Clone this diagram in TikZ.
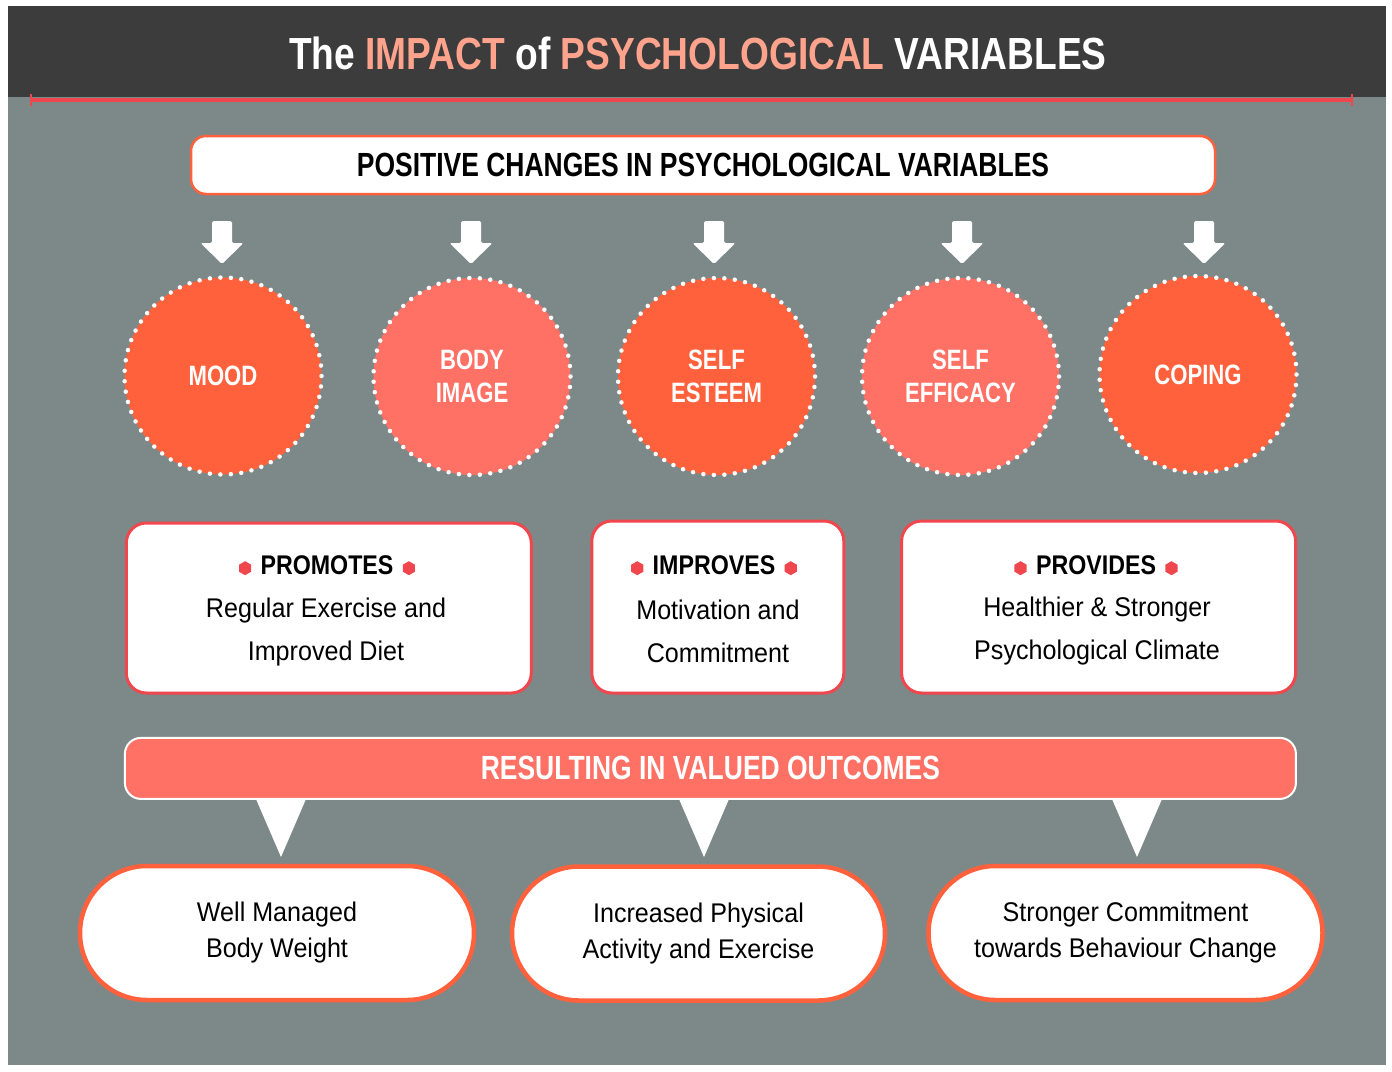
\documentclass[tikz,border=0pt]{standalone}
\usepackage{fontspec}
\setmainfont{Liberation Sans}
\newfontfamily\titlefont{Liberation Sans}[FakeStretch=0.825]
\newfontfamily\capsfont{Liberation Sans}[FakeStretch=0.79]
\newfontfamily\headfont{Liberation Sans}[FakeStretch=0.86]
\newfontfamily\bodyfont{Liberation Sans}[FakeStretch=0.93]
\usetikzlibrary{positioning,shapes.geometric}

\begin{document}
\begin{tikzpicture}[
    x=1pt, y=-1pt,
    varcircle/.style={
        circle, minimum size=197pt, inner sep=0pt, align=center,
        draw=white, line width=4.5pt, line cap=round, dash pattern=on 0pt off 10.49pt,
        text=white, font=\capsfont\bfseries\fontsize{28pt}{33pt}\selectfont
    },
    topbox/.style={
        draw=colOrange, line width=2.5pt, fill=white, rounded corners=15pt,
        minimum width=1024pt, minimum height=58pt, inner sep=0pt,
        font=\capsfont\bfseries\fontsize{33.5pt}{33.5pt}\selectfont
    },
    resultbox/.style={
        draw=colRed, line width=3pt, fill=white, rounded corners=20pt, inner sep=0pt
    },
    boxhead/.style={inner sep=0pt, font=\headfont\bfseries\fontsize{27pt}{27pt}\selectfont},
    boxbody/.style={inner sep=0pt, align=center, font=\bodyfont\fontsize{27pt}{43pt}\selectfont},
    hexdot/.style={
        regular polygon, regular polygon sides=6, regular polygon rotate=30,
        minimum size=14pt, inner sep=0pt, fill=colRed
    },
    banner/.style={
        draw=white, line width=2pt, fill=colSalmon, rounded corners=16pt,
        minimum width=1171pt, minimum height=61pt, inner sep=0pt, text=white,
        font=\capsfont\bfseries\fontsize{33.5pt}{33.5pt}\selectfont
    },
    outcome/.style={
        draw=colOrange, line width=4.5pt, fill=white, rounded corners=67pt,
        minimum width=394pt, minimum height=134pt, inner sep=0pt, align=center,
        font=\bodyfont\fontsize{27pt}{36pt}\selectfont
    }
]

% ============================
% COLOR DEFINITIONS
% ============================
\definecolor{colDark}{HTML}{3C3C3C}     % header
\definecolor{colSlate}{HTML}{7D8989}    % panel
\definecolor{colOrange}{HTML}{FF613D}   % orange red
\definecolor{colSalmon}{HTML}{FF7065}   % salmon
\definecolor{colAccent}{HTML}{FFA38D}   % title accent
\definecolor{colRed}{HTML}{F0464D}      % box borders

\useasboundingbox (0,0) rectangle (1392,1071);
\fill[white] (0,0) rectangle (1392,1071);

% ============================
% HEADER
% ============================
\fill[colDark] (8,6) rectangle (1386,97);
\fill[colSlate] (8,97) rectangle (1386,1065);
\draw[colRed, line width=4pt] (31,99.5) -- (1352,99.5);
\draw[colRed, line width=2pt] (31,94) -- (31,106) (1352,94) -- (1352,106);
\node[anchor=base, inner sep=0pt, text=white, font=\titlefont\bfseries\fontsize{45pt}{45pt}\selectfont]
    (title) at (698,69) {The \textcolor{colAccent}{IMPACT} of \textcolor{colAccent}{PSYCHOLOGICAL} VARIABLES};

% ============================
% ROW 1: Positive changes
% ============================
\node[topbox] (positive) at (703,165) {POSITIVE CHANGES IN PSYCHOLOGICAL VARIABLES};

% --- block arrows ---
\foreach \ax in {222,471,714,962,1204} {
    \fill[white, rounded corners=1.5pt] (\ax-10,221) -- (\ax+10,221) -- (\ax+10,243)
        -- (\ax+21.5,243) -- (\ax,264) -- (\ax-21.5,243) -- (\ax-10,243) -- cycle;
}

% ============================
% ROW 2 (y=376): Variables
% ============================
\node[varcircle, fill=colOrange] (mood)     at (223,376)   {MOOD};
\node[varcircle, fill=colSalmon] (body)     at (472,376.5) {BODY\\IMAGE};
\node[varcircle, fill=colOrange] (esteem)   at (716.5,376.5) {SELF\\ESTEEM};
\node[varcircle, fill=colSalmon] (efficacy) at (960.5,376.5) {SELF\\EFFICACY};
\node[varcircle, fill=colOrange] (coping)   at (1198,374.5) {COPING};

% ============================
% ROW 3 (y=608): Effects
% ============================

% --- Promotes ---
\node[resultbox, minimum width=405pt, minimum height=170pt] (promotesbox) at (328.8,608) {};
\node[boxhead, anchor=base] (promotes) at (327,574) {PROMOTES};
\node[hexdot, left=9pt of promotes, yshift=-3.5pt] (promotes-l) {};
\node[hexdot, right=9pt of promotes, yshift=-3.5pt] (promotes-r) {};
\node[boxbody] (promotes-txt) at (326,632) {Regular Exercise and\\Improved Diet};

% --- Improves ---
\node[resultbox, minimum width=252pt, minimum height=172pt] (improvesbox) at (717.8,607) {};
\node[boxhead, anchor=base] (improves) at (714,574) {IMPROVES};
\node[hexdot, left=9pt of improves, yshift=-3.5pt] (improves-l) {};
\node[hexdot, right=9pt of improves, yshift=-3.5pt] (improves-r) {};
\node[boxbody] (improves-txt) at (718,631) {Motivation and\\Commitment};

% --- Provides ---
\node[resultbox, minimum width=394pt, minimum height=172pt] (providesbox) at (1098.6,607) {};
\node[boxhead, anchor=base] (provides) at (1096,574) {PROVIDES};
\node[hexdot, left=9pt of provides, yshift=-3.5pt] (provides-l) {};
\node[hexdot, right=9pt of provides, yshift=-3.5pt] (provides-r) {};
\node[boxbody] (provides-txt) at (1097,631) {Healthier \& Stronger\\Psychological Climate};

% ============================
% ROW 4: Outcomes
% ============================
\node[banner] (outcomes) at (710.4,768.4) {RESULTING IN VALUED OUTCOMES};

\foreach \tx in {281,704,1137} {
    \fill[white] (\tx-25,799) -- (\tx+25,799) -- (\tx,857) -- cycle;
}

\node[outcome] (weight)    at (277,933)    {Well Managed\\Body Weight};
\node[outcome, minimum width=373pt] (activity) at (698.5,933.5) {Increased Physical\\Activity and Exercise};
\node[outcome] (behaviour) at (1125.5,933) {Stronger Commitment\\towards Behaviour Change};

\end{tikzpicture}
\end{document}
